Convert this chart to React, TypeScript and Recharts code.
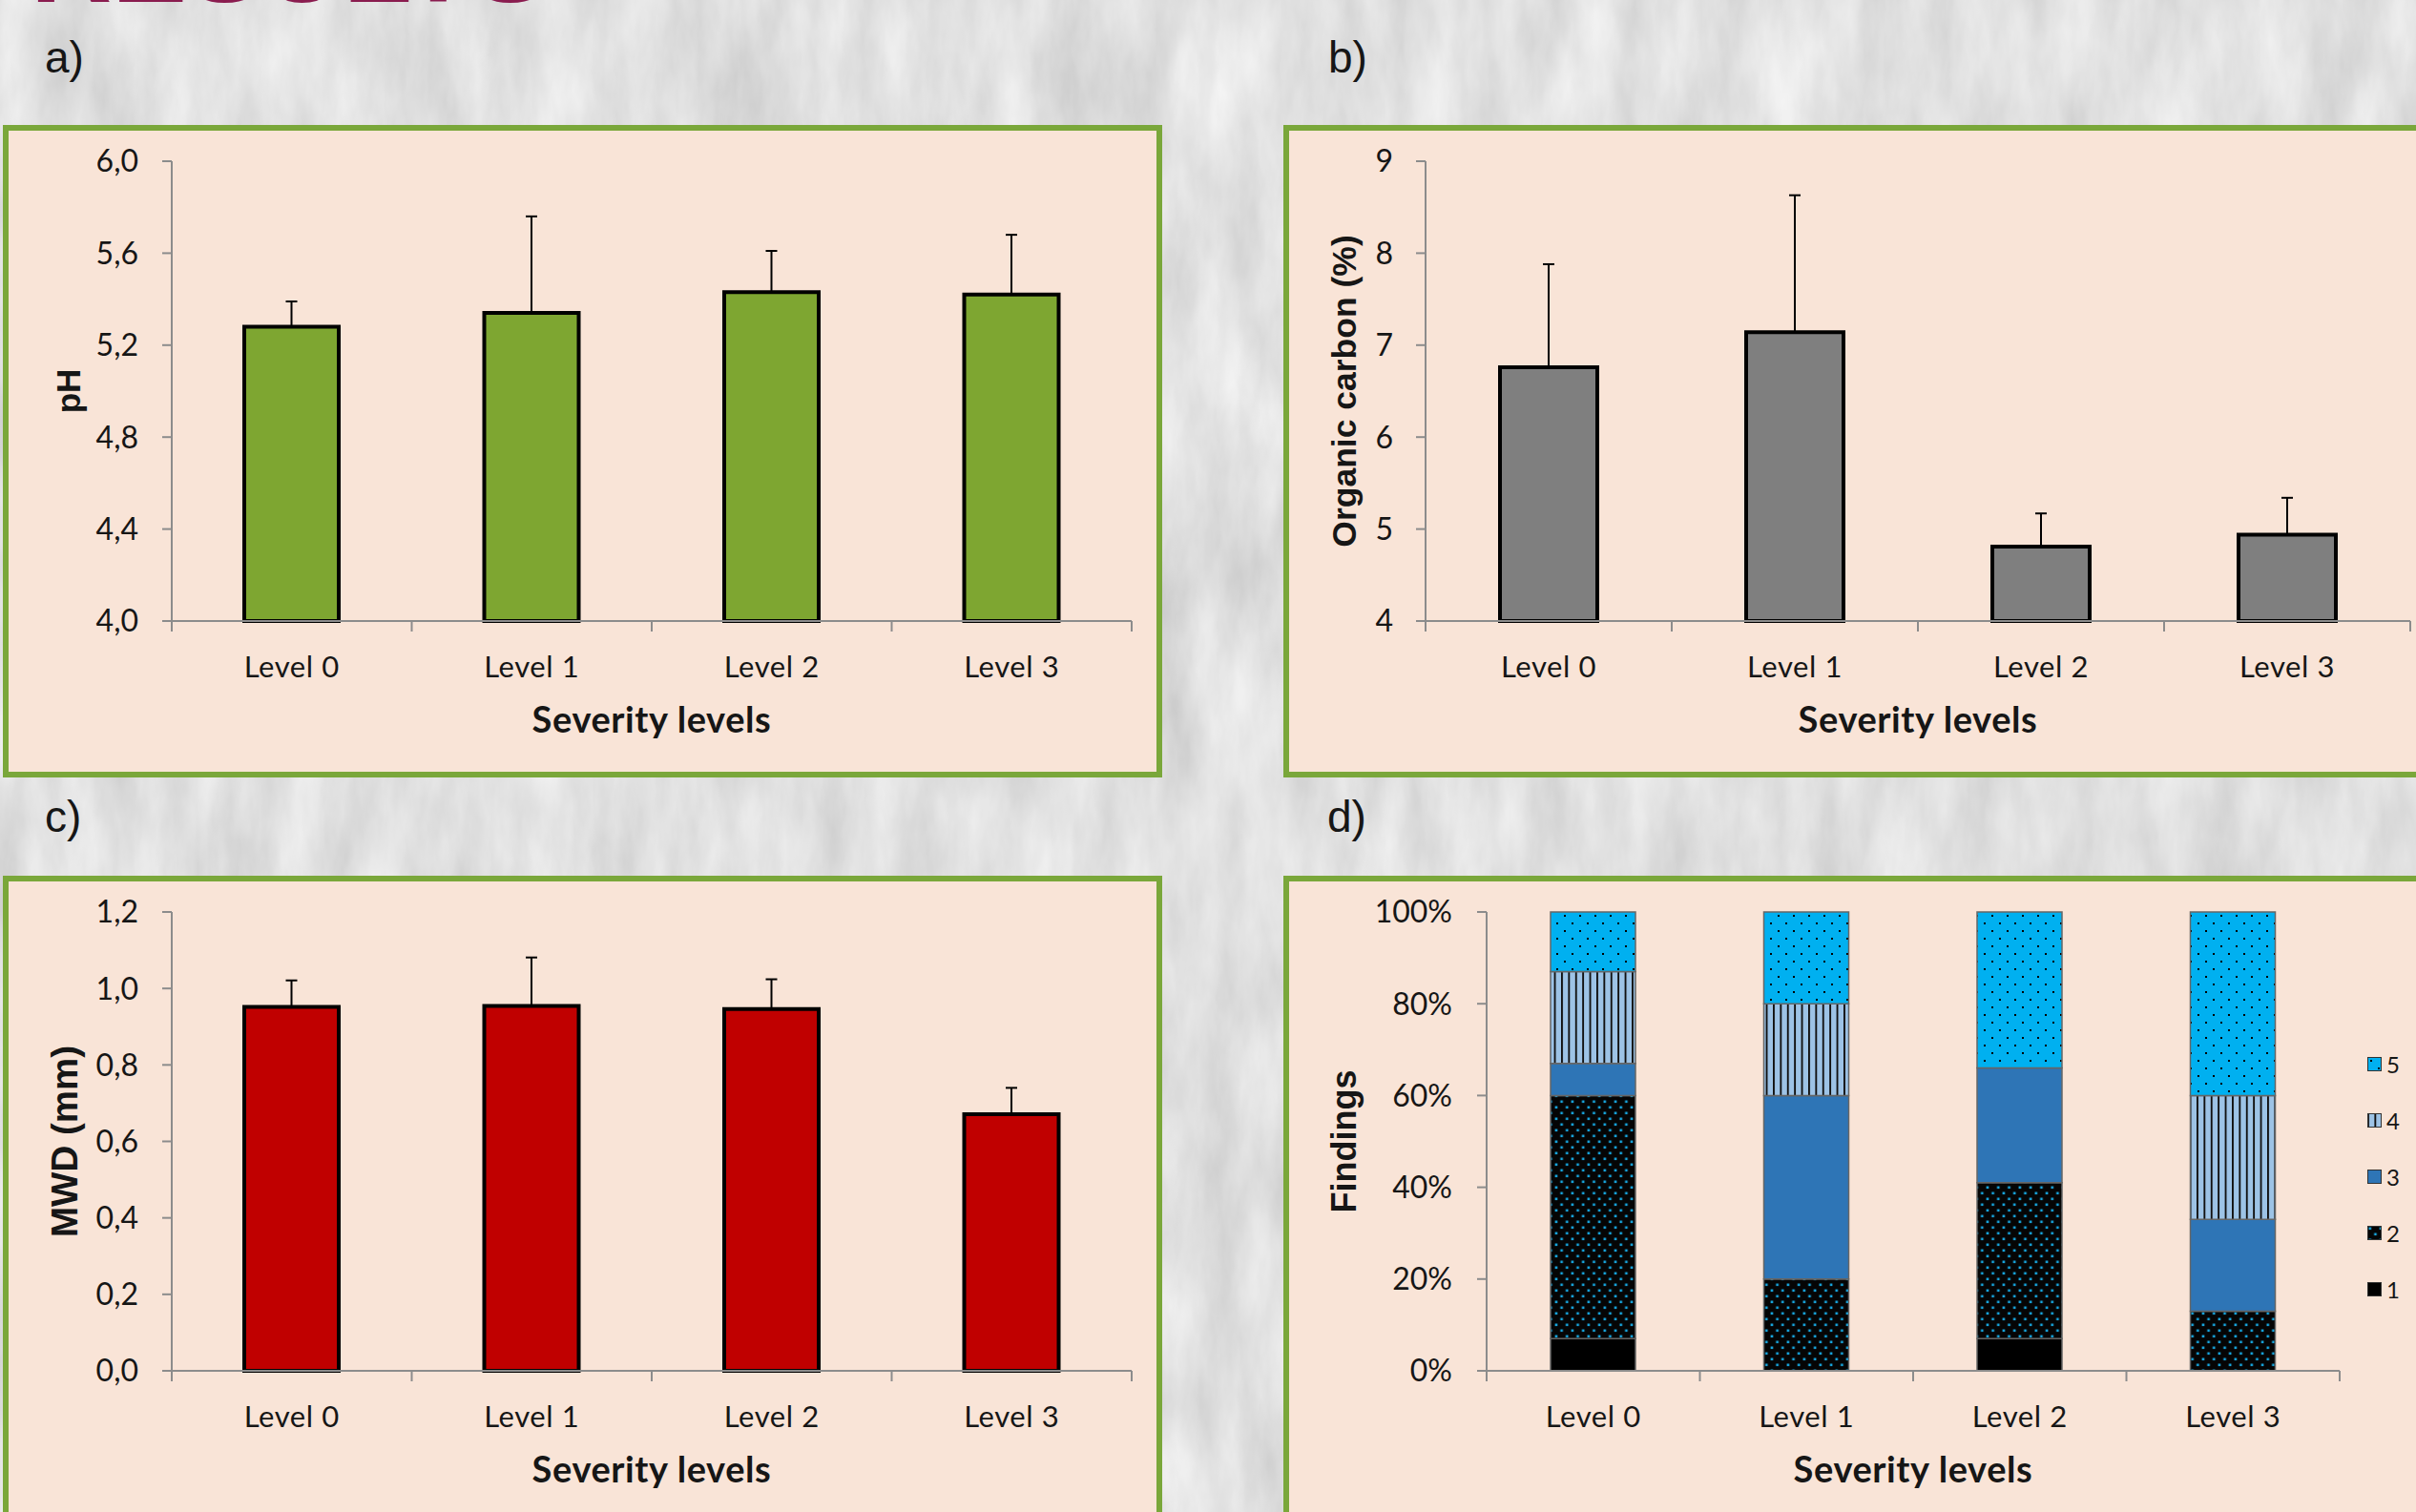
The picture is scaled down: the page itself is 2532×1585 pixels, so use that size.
import React from 'react';
import { BarChart, Bar, XAxis, YAxis, ErrorBar, Legend, Label } from 'recharts';

// ---- categories -------------------------------------------------------
const levels = ['Level 0', 'Level 1', 'Level 2', 'Level 3'];

// ---- a) pH ------------------------------------------------------------
const phMean = [5.28, 5.34, 5.43, 5.42];
const phErr = [0.11, 0.42, 0.18, 0.26];
const phTicks = [4.0, 4.4, 4.8, 5.2, 5.6, 6.0];

// ---- b) organic carbon (%) ---------------------------------------------
const ocMean = [6.76, 7.14, 4.81, 4.94];
const ocErr = [1.12, 1.49, 0.36, 0.4];
const ocTicks = [4, 5, 6, 7, 8, 9];

// ---- c) mean weight diameter (mm) --------------------------------------
const mwdMean = [0.952, 0.954, 0.946, 0.671];
const mwdErr = [0.069, 0.127, 0.078, 0.069];
const mwdTicks = [0, 0.2, 0.4, 0.6, 0.8, 1.0, 1.2];

// ---- d) findings per class (%) -----------------------------------------
const class1 = [7, 0, 7, 0];
const class2 = [53, 20, 34, 13];
const class3 = [7, 40, 25, 20];
const class4 = [20, 20, 0, 27];
const class5 = [13, 20, 34, 40];
const findingTicks = [0, 20, 40, 60, 80, 100];
const classNames = ['1', '2', '3', '4', '5'];

// ---- styling ----------------------------------------------------------
const AXIS = '#8c8c8c';
const INK = '#161616';
const BODY_FONT = "Lato, 'Open Sans', sans-serif";
const HEAD_FONT = "'Liberation Sans', Arial, sans-serif";
const PANEL_BG = '#f9e4d7';
const PANEL_EDGE = '#7aa73a';

const classFills = ['#000000', 'url(#pat2)', '#2e75b6', 'url(#pat4)', 'url(#pat5)'];

type Frame = {
  left: number;
  top: number;
  width: number;
  height: number;
  plotLeft: number;
  plotRight: number;
  plotTop: number;
  plotBottom: number;
  yTitleX: number;
};

const frameA: Frame = { left: 0, top: 120, width: 1230, height: 700, plotLeft: 180, plotRight: 1186, plotTop: 49, plotBottom: 531, yTitleX: 71 };
const frameB: Frame = { left: 1340, top: 120, width: 1192, height: 700, plotLeft: 154, plotRight: 1186, plotTop: 49, plotBottom: 531, yTitleX: 68 };
const frameC: Frame = { left: 0, top: 900, width: 1230, height: 685, plotLeft: 180, plotRight: 1186, plotTop: 56, plotBottom: 537, yTitleX: 67 };
const frameD: Frame = { left: 1340, top: 900, width: 1192, height: 685, plotLeft: 218, plotRight: 1112, plotTop: 56, plotBottom: 537, yTitleX: 68 };

const LEGEND_W = 51;

const meanRows = (means: number[], errs: number[]) =>
  levels.map((level, i) => ({ level, mean: means[i], err: [0, errs[i]] }));

const findingRows = levels.map((level, i) => ({
  level,
  c1: class1[i],
  c2: class2[i],
  c3: class3[i],
  c4: class4[i],
  c5: class5[i],
}));

const comma1 = (v: number) => v.toFixed(1).replace('.', ',');

// Category labels centred in each band, with tick marks on the band edges
function makeLevelTick(f: Frame) {
  const band = (f.plotRight - f.plotLeft) / levels.length;
  return (props: any) => {
    const { x, y, payload, index } = props;
    return (
      <g>
        <line x1={x - band / 2} x2={x - band / 2} y1={y} y2={y + 11} stroke={AXIS} strokeWidth={2} />
        {index === levels.length - 1 && (
          <line x1={x + band / 2} x2={x + band / 2} y1={y} y2={y + 11} stroke={AXIS} strokeWidth={2} />
        )}
        <text x={x} y={y + 59} textAnchor="middle" fill={INK} fontFamily={BODY_FONT} fontSize={31} letterSpacing={0.6}>
          {payload.value}
        </text>
      </g>
    );
  };
}

function xTitle(f: Frame) {
  return () => (
    <text
      x={(f.plotLeft + f.plotRight) / 2}
      y={f.plotBottom + 117}
      textAnchor="middle"
      fill={INK}
      fontFamily={BODY_FONT}
      fontWeight={700}
      fontSize={38}
      letterSpacing={0.6}
    >
      Severity levels
    </text>
  );
}

function yTitle(f: Frame, text: string, size: number) {
  const cy = (f.plotTop + f.plotBottom) / 2;
  return () => (
    <text
      transform={`translate(${f.yTitleX + size * 0.36}, ${cy}) rotate(-90)`}
      textAnchor="middle"
      fill={INK}
      fontFamily={HEAD_FONT}
      fontWeight={700}
      fontSize={size}
    >
      {text}
    </text>
  );
}

const axisLine = { stroke: AXIS, strokeWidth: 2 };
const tickFont = { fill: INK, fontSize: 32, fontFamily: BODY_FONT };

type MeanProps = {
  frame: Frame;
  means: number[];
  errs: number[];
  ticks: number[];
  fill: string;
  barSize: number;
  yTitleText: string;
  yTitleSize: number;
  tickMargin: number;
  format: (v: number) => string;
};

function MeanChart({ frame, means, errs, ticks, fill, barSize, yTitleText, yTitleSize, tickMargin, format }: MeanProps) {
  const f = frame;
  return (
    <div style={{ position: 'absolute', left: f.left, top: f.top }}>
      <BarChart
        width={f.width}
        height={f.height}
        data={meanRows(means, errs)}
        margin={{ top: f.plotTop, right: f.width - f.plotRight, left: 0, bottom: 0 }}
      >
        <XAxis
          dataKey="level"
          type="category"
          height={f.height - f.plotBottom}
          axisLine={axisLine}
          tickLine={false}
          tickSize={0}
          tickMargin={0}
          interval={0}
          tick={makeLevelTick(f)}
        >
          <Label content={xTitle(f)} />
        </XAxis>
        <YAxis
          type="number"
          width={f.plotLeft}
          domain={[ticks[0], ticks[ticks.length - 1]]}
          ticks={ticks}
          interval={0}
          tickFormatter={format}
          axisLine={axisLine}
          tickLine={axisLine}
          tickSize={10}
          tickMargin={tickMargin}
          tick={tickFont}
        >
          <Label content={yTitle(f, yTitleText, yTitleSize)} />
        </YAxis>
        <Bar dataKey="mean" fill={fill} stroke="#000" strokeWidth={4} barSize={barSize} isAnimationActive={false}>
          <ErrorBar dataKey="err" direction="y" width={6} strokeWidth={2} stroke="#000" isAnimationActive={false} />
        </Bar>
      </BarChart>
    </div>
  );
}

function Patterns() {
  return (
    <defs>
      <pattern id="pat5" width={16} height={16} patternUnits="userSpaceOnUse">
        <rect width={16} height={16} fill="#00b0f0" />
        <rect x={3} y={3} width={2} height={2} fill="#000" />
        <rect x={11} y={11} width={2} height={2} fill="#000" />
      </pattern>
      <pattern id="pat4" width={7.4} height={10} patternUnits="userSpaceOnUse">
        <rect width={7.4} height={10} fill="#9dc3e6" />
        <rect x={0} y={0} width={1.9} height={10} fill="#111" />
      </pattern>
      <pattern id="pat2" width={11.3} height={12} patternUnits="userSpaceOnUse">
        <rect width={11.3} height={12} fill="#050505" />
        <rect x={1.5} y={1.5} width={2.6} height={2.6} fill="#17a7e0" />
        <rect x={7.15} y={7.5} width={2.6} height={2.6} fill="#17a7e0" />
      </pattern>
    </defs>
  );
}

function FindingsLegend() {
  const order = classNames.map((n, i) => ({ name: n, fill: classFills[i] })).reverse();
  return (
    <div style={{ width: LEGEND_W, paddingLeft: 29, boxSizing: 'border-box' }}>
      {order.map((item) => (
        <div key={item.name} style={{ height: 59, display: 'flex', alignItems: 'center' }}>
          <svg width={15} height={15} style={{ display: 'block', flex: 'none' }}>
            <rect x={0.5} y={0.5} width={14} height={14} fill={item.fill} stroke="#333" strokeWidth={1} />
          </svg>
          <span style={{ marginLeft: 5, fontFamily: BODY_FONT, fontSize: 24, color: INK, lineHeight: '24px' }}>
            {item.name}
          </span>
        </div>
      ))}
    </div>
  );
}

function FindingsChart() {
  const f = frameD;
  return (
    <div style={{ position: 'absolute', left: f.left, top: f.top }}>
      <BarChart
        width={f.width}
        height={f.height}
        data={findingRows}
        margin={{ top: f.plotTop, right: f.width - f.plotRight - LEGEND_W, left: 0, bottom: 0 }}
      >
        <Patterns />
        <XAxis
          dataKey="level"
          type="category"
          height={f.height - f.plotBottom}
          axisLine={axisLine}
          tickLine={false}
          tickSize={0}
          tickMargin={0}
          interval={0}
          tick={makeLevelTick(f)}
        >
          <Label content={xTitle(f)} />
        </XAxis>
        <YAxis
          type="number"
          width={f.plotLeft}
          domain={[0, 100]}
          ticks={findingTicks}
          interval={0}
          tickFormatter={(v: number) => `${v}%`}
          axisLine={axisLine}
          tickLine={axisLine}
          tickSize={10}
          tickMargin={26}
          tick={tickFont}
        >
          <Label content={yTitle(f, 'Findings', 36)} />
        </YAxis>
        {classNames.map((n, i) => (
          <Bar
            key={n}
            name={n}
            dataKey={`c${i + 1}`}
            stackId="findings"
            fill={classFills[i]}
            stroke="#666"
            strokeWidth={1.5}
            barSize={89}
            isAnimationActive={false}
          />
        ))}
        <Legend
          layout="vertical"
          align="right"
          verticalAlign="top"
          width={LEGEND_W}
          wrapperStyle={{ top: 186, right: f.width - f.plotRight - LEGEND_W }}
          content={() => <FindingsLegend />}
        />
      </BarChart>
    </div>
  );
}

function Panel({ left, top, width, height }: { left: number; top: number; width: number; height: number }) {
  return (
    <div
      style={{
        position: 'absolute',
        left,
        top,
        width,
        height,
        boxSizing: 'border-box',
        background: PANEL_BG,
        border: `6px solid ${PANEL_EDGE}`,
      }}
    />
  );
}

function Backdrop() {
  const tag = { fontFamily: HEAD_FONT, fontSize: 46, fill: INK };
  return (
    <svg width={2532} height={1585} style={{ position: 'absolute', left: 0, top: 0 }}>
      <filter id="bark" x="0" y="0" width="100%" height="100%">
        <feTurbulence type="fractalNoise" baseFrequency="0.02 0.006" numOctaves={5} seed={11} />
        <feColorMatrix
          type="matrix"
          values="0.36 0 0 0 0.57  0.36 0 0 0 0.57  0.36 0 0 0 0.57  0 0 0 0 1"
        />
      </filter>
      <rect width={2532} height={1585} filter="url(#bark)" />
      <text x={32} y={2} fontFamily={HEAD_FONT} fontWeight={700} fontSize={118} fill="#8a1c4f">
        RESULTS
      </text>
      <text x={47} y={76} {...tag}>a)</text>
      <text x={1392} y={76} {...tag}>b)</text>
      <text x={47} y={872} {...tag}>c)</text>
      <text x={1391} y={872} {...tag}>d)</text>
    </svg>
  );
}

export default function App() {
  return (
    <div style={{ position: 'absolute', left: 0, top: 0, width: 2532, height: 1585, overflow: 'hidden' }}>
      <Backdrop />
      <Panel left={3} top={131} width={1215} height={684} />
      <Panel left={1345} top={131} width={1200} height={684} />
      <Panel left={3} top={918} width={1215} height={700} />
      <Panel left={1345} top={918} width={1200} height={700} />
      <MeanChart
        frame={frameA}
        means={phMean}
        errs={phErr}
        ticks={phTicks}
        fill="#7ea631"
        barSize={99}
        yTitleText="pH"
        yTitleSize={35}
        tickMargin={25}
        format={comma1}
      />
      <MeanChart
        frame={frameB}
        means={ocMean}
        errs={ocErr}
        ticks={ocTicks}
        fill="#7f7f7f"
        barSize={102}
        yTitleText="Organic carbon (%)"
        yTitleSize={35.5}
        tickMargin={24}
        format={(v: number) => String(v)}
      />
      <MeanChart
        frame={frameC}
        means={mwdMean}
        errs={mwdErr}
        ticks={mwdTicks}
        fill="#c00000"
        barSize={99}
        yTitleText="MWD (mm)"
        yTitleSize={38.5}
        tickMargin={25}
        format={comma1}
      />
      <FindingsChart />
    </div>
  );
}
